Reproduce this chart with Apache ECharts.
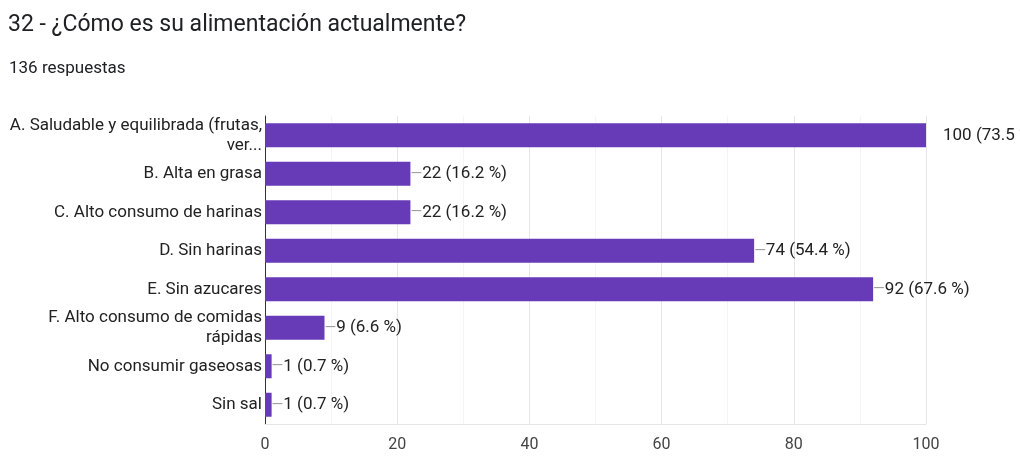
<!DOCTYPE html>
<html>
<head>
<meta charset="utf-8">
<script src="https://cdn.jsdelivr.net/npm/echarts@6/dist/echarts.min.js"></script>
<style>
  html, body { margin: 0; padding: 0; background: #fff; }
  #chart { width: 1020px; height: 460px; }
</style>
</head>
<body>
<div id="chart"></div>
<script>
// categorías (con los saltos de línea como en la imagen)
const categories = [
    'A. Saludable y equilibrada (frutas,\nver...',
    'B. Alta en grasa',
    'C. Alto consumo de harinas',
    'D. Sin harinas',
    'E. Sin azucares',
    'F. Alto consumo de comidas\nrápidas',
    'No consumir gaseosas',
    'Sin sal'
]
const counts = [100, 22, 22, 74, 92, 9, 1, 1]
const percents = ['73.5', '16.2', '16.2', '54.4', '67.6', '6.6', '0.7', '0.7']
const xTicks = [0, 20, 40, 60, 80, 100]

const chart = echarts.init(document.getElementById('chart'))

const barData = counts.map((v, i) => {
    const item = { value: v }
    // la barra al máximo no lleva línea guía
    if (v === xTicks[xTicks.length - 1]) {
        item.label = { formatter: '{t|' + v + ' (' + percents[i] + ' %)}', distance: 17 }
    }
    return item
})

const option = {
    animation: false,
    textStyle: { fontFamily: 'Roboto' },
    title: [
        {
            text: '32 - ¿Cómo es su alimentación actualmente?',
            left: 3,
            top: 9,
            textStyle: { fontSize: 23, fontWeight: 'normal', color: '#202124', fontFamily: 'Roboto' }
        },
        {
            text: '136 respuestas',
            left: 4,
            top: 55,
            textStyle: { fontSize: 17, fontWeight: 'normal', color: '#202124', fontFamily: 'Roboto' }
        }
    ],
    grid: {
        left: 265,
        right: 94,
        top: 116,
        bottom: 36
    },
    xAxis: {
        type: 'value',
        min: 0,
        max: 100,
        interval: 20,
        axisLine: { show: true, lineStyle: { color: '#e6e6e6' } },
        axisTick: { show: false },
        axisLabel: { color: '#444', fontSize: 16, margin: 13 },
        splitLine: { lineStyle: { color: '#e6e6e6' } },
        minorTick: { show: false, splitNumber: 2 },
        minorSplitLine: { show: true, lineStyle: { color: '#f4f4f4' } }
    },
    yAxis: {
        type: 'category',
        inverse: true,
        data: categories,
        axisLine: { lineStyle: { color: '#333', width: 1 } },
        axisTick: { show: false },
        axisLabel: { color: '#222', fontSize: 17, lineHeight: 20, margin: 3, align: 'right' }
    },
    series: [
        {
            type: 'bar',
            data: barData,
            barWidth: 24,
            itemStyle: { color: '#673ab7' },
            label: {
                show: true,
                position: 'right',
                distance: 0,
                formatter: (p) => '{d|—}{t|' + p.value + ' (' + percents[p.dataIndex] + ' %)}',
                rich: {
                    d: { color: '#9e9e9e', fontSize: 15 },
                    t: { color: '#222', fontSize: 17 }
                }
            }
        }
    ]
}

chart.setOption(option)
</script>
</body>
</html>
